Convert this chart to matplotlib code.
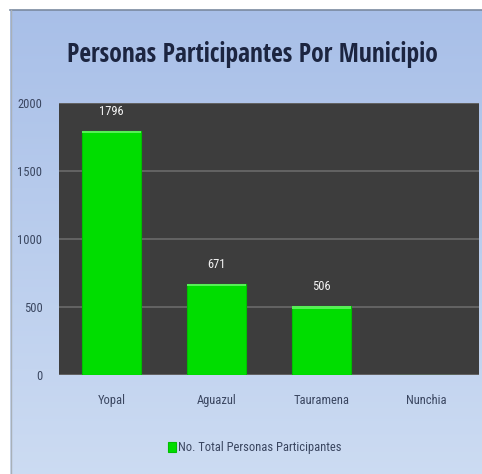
import numpy as np
import matplotlib
matplotlib.use("Agg")
import matplotlib.pyplot as plt
from matplotlib.patches import Rectangle
from matplotlib import font_manager

categories = ["Yopal", "Aguazul", "Tauramena", "Nunchia"]
values = [1796, 671, 506, 0]
labels = ["1796", "671", "506", ""]
yticks = [0, 500, 1000, 1500, 2000]
title = "Personas Participantes Por Municipio"
legend_label = "No. Total Personas Participantes"

fl = font_manager.fontManager.ttflist
names = {f.name for f in fl}
cands = ["Liberation Sans Narrow", "Noto Sans Condensed", "Open Sans Condensed",
         "Roboto Condensed", "DejaVu Sans Condensed", "Liberation Sans"]
narrow = next((c for c in cands if c in names), "DejaVu Sans")
reg = next((c for c in cands if any(f.name == c and f.weight in (400, "normal", "regular")
                                    and f.style == "normal" for f in fl)), None)
small_family = [reg or "Liberation Sans", "DejaVu Sans"]
plt.rcParams["font.family"] = small_family
small_fs = 9 if reg and reg != "Liberation Sans" else 8

W, H = 482, 474
fig = plt.figure(figsize=(W/100, H/100), dpi=100)
fig.patch.set_facecolor("white")

bg = fig.add_axes([10/W, 0, 472/W, 464/H])
grad = np.linspace(0, 1, 256).reshape(-1, 1)
top = np.array([0.66, 0.75, 0.91])
bot = np.array([0.80, 0.86, 0.95])
img = top[None, None, :] * (1 - grad[:, :, None]) + bot[None, None, :] * grad[:, :, None]
bg.imshow(img, aspect="auto", extent=[0, 1, 0, 1])
bg.set_axis_off()
fig.add_artist(plt.Line2D([10/W, 1], [1 - 10/H, 1 - 10/H], color="#7a8aa0", lw=1.2))
fig.add_artist(plt.Line2D([10.5/W, 10.5/W], [0, 1 - 10/H], color="#a8b0b8", lw=1.0))

ax = fig.add_axes([59/W, 1 - 375/H, 420/W, 272/H])
ax.set_facecolor("#3d3d3d")
x = np.arange(len(categories))
bars = ax.bar(x, values, width=0.56, color="#00dd00", edgecolor="#00c000", linewidth=0.8,
              label=legend_label, zorder=3)
for b, v in zip(bars, values):
    if v > 0:
        ax.add_patch(Rectangle((b.get_x(), v - 18), b.get_width(), 18, color="#55f055", zorder=4, lw=0))
for xi, v, lab in zip(x, values, labels):
    if lab:
        ax.text(xi, v + 95, lab, ha="center", va="bottom", color="#f4f4f4", fontsize=small_fs, zorder=5)
ax.set_xlim(-0.5, len(categories) - 0.5)
ax.set_ylim(0, 2000)
ax.set_yticks(yticks)
ax.set_yticklabels([str(t) for t in yticks], fontsize=small_fs, color="#3a4660")
ax.set_xticks(x)
ax.set_xticklabels(categories, fontsize=small_fs, color="#3a4660")
ax.tick_params(length=0, pad=12)
ax.tick_params(axis="x", pad=14)
ax.grid(axis="y", color="#6a6a6a", lw=1.2, zorder=1)
for s in ax.spines.values():
    s.set_visible(False)

t = fig.text(252/W, 1 - 55/H, title, ha="center", va="center", fontsize=18, fontweight="bold",
             color="#1c2540", family=[narrow, "DejaVu Sans"])
fig.canvas.draw()
w = t.get_window_extent().width
t.set_fontsize(min(24, 18 * 372 / w))

fig.legend(handles=[bars], labels=[legend_label], loc="center", bbox_to_anchor=(255/W, 1 - 448/H),
           frameon=False, fontsize=small_fs, handlelength=0.6, handleheight=0.9, handletextpad=0.2,
           labelcolor="#3a4660")

fig.savefig("out.png", dpi=100)
